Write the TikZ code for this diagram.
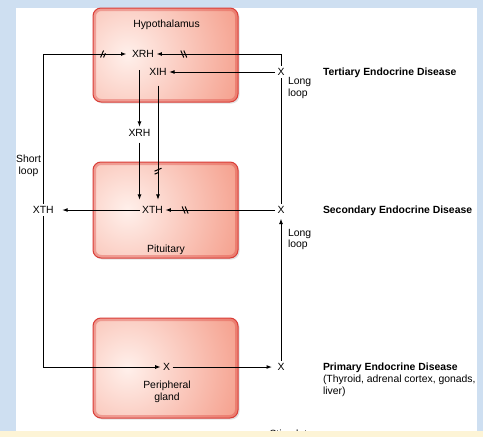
\documentclass[tikz,border=0pt]{standalone}
\usepackage{fontspec}
\setmainfont{Liberation Sans}
\usetikzlibrary{arrows.meta, decorations.markings, shadows}

\definecolor{frameblue}{RGB}{206,223,241}
\definecolor{bandyellow}{RGB}{253,244,214}
\definecolor{glandedge}{RGB}{218,62,56}
\definecolor{glandhi}{RGB}{255,240,235}
\definecolor{glandlo}{RGB}{244,152,132}

\tikzset{
  gland/.style={draw=glandedge, line width=1pt, rounded corners=8pt,
    drop shadow={shadow xshift=1.5pt, shadow yshift=-1.5pt, fill=black!22},
    path picture={\shade[inner color=glandhi, outer color=glandlo]
      ([xshift=-38pt]path picture bounding box.center) circle (130pt);
      \draw[glandedge, line width=6pt, opacity=0.35, rounded corners=8pt]
      (path picture bounding box.south west) rectangle (path picture bounding box.north east);}},
  hormone/.style={inner sep=2pt, font=\fontsize{10.4}{11.5}\selectfont},
  note/.style={inner sep=0pt, align=left, font=\fontsize{10.4}{11.5}\selectfont},
  disease/.style={inner sep=0pt, anchor=base west, font=\fontsize{10.4}{12}\selectfont\bfseries},
  cutfwd/.style={postaction={decorate, decoration={markings,
    mark=at position #1 with {\draw[-] (-3pt,-3.5pt) -- (0pt,3.5pt) (0pt,-3.5pt) -- (3pt,3.5pt);}}}},
  cutrev/.style={postaction={decorate, decoration={markings,
    mark=at position #1 with {\draw[-] (-3pt,3.5pt) -- (0pt,-3.5pt) (0pt,3.5pt) -- (3pt,-3.5pt);}}}},
}

\begin{document}
\begin{tikzpicture}[x=1pt, y=-1pt, line width=1pt, >={Latex[length=5.5pt,width=4pt]}]
   \useasboundingbox (0,0) rectangle (483,437);
   % frame and panel
   \fill[frameblue] (0,0) rectangle (483,437);
   \fill[white] (16,8) rectangle (477,431);

   % glands
   \node[gland, minimum width=145pt, minimum height=94pt] (hyp) at (165.5,55) {};
   \node[gland, minimum width=145pt, minimum height=96pt] (pit) at (165.5,210) {};
   \node[gland, minimum width=145pt, minimum height=100pt] (per) at (165.5,368) {};
   \node[hormone, anchor=base] at (166.5,27.5) {Hypothalamus};
   \node[hormone, anchor=base] at (166,252) {Pituitary};
   \node[hormone, anchor=base, align=center] at (167,400) {Peripheral\\gland};

   % hormones
   \node[hormone] (xrhH) at (143,54) {XRH};
   \node[hormone] (xihH) at (158,72) {XIH};
   \node[hormone] (xrhM) at (139.5,133) {XRH};
   \node[hormone] (xthP) at (152.5,210) {XTH};
   \node[hormone] (xthL) at (43.3,210) {XTH};
   \node[hormone] (xP) at (166.7,367) {X};
   \node[hormone] (xT) at (281,72) {X};
   \node[hormone] (xS) at (281,210) {X};
   \node[hormone] (xR) at (281,367) {X};

   % loop labels
   \node[note, anchor=north, align=center] at (28.5,154.5) {Short\\loop};
   \node[note, anchor=north west] at (287.5,77) {Long\\loop};
   \node[note, anchor=north west] at (287.5,228.5) {Long\\loop};

   % diseases
   \node[disease] (tert) at (322.5,75.6) {Tertiary Endocrine Disease};
   \node[disease] (sec) at (322.5,213.6) {Secondary Endocrine Disease};
   \node[disease] (prim) at (322.5,370.6) {Primary Endocrine Disease};
   \node[note, anchor=north west] at (322.5,374.5) {(Thyroid, adrenal cortex, gonads,\\liver)};

   % feedback
   \draw[->, shorten >=3pt, cutfwd=0.89] (xthL.north) |- (xrhH.west);
   \draw[->, cutrev=0.80] (xT.north) |- (xrhH.east);
   \draw[->] (xT.west) -- (xihH.east);
   \draw[->, shorten <=10pt] (xrhH.south -| xrhM.north) -- (xrhM.north);
   \draw[->, shorten <=3.5pt, shorten >=4pt] (xrhM.south) -- (xrhM.south |- xthP.north);
   \draw[->, shorten <=7.5pt, shorten >=4pt, cutrev=0.74] (xihH.south) -- (xihH.south |- xthP.north);
   \draw[->, shorten >=6pt] (xthP.west) -- (xthL.east);
   \draw[->, cutrev=0.82] (xS.west) -- (xthP.east);
   \draw (xS.north) -- (xT.south);
   \draw[->, shorten >=2.5pt] (xR.north) -- (xS.south);
   \draw[->] (xthL.south) |- (xP.west);
   \draw[->, shorten >=3pt] (xP.east) -- (xR.west);

   % legend, cut by the band
   \node[hormone, anchor=north west] (stim) at (267,427) {Stimulate};
   \draw[->] ([xshift=-16pt]stim.west) -- (stim.west);
   \fill[bandyellow] (0,431) rectangle (483,437);
\end{tikzpicture}
\end{document}
